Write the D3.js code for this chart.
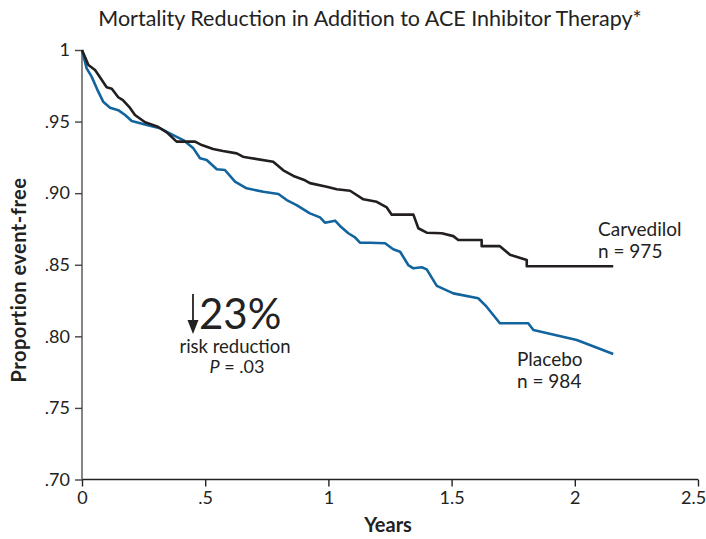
<!DOCTYPE html>
<html>
<head>
<meta charset="utf-8">
<script src="https://cdn.jsdelivr.net/npm/d3@7"></script>
<style>
  html, body { margin: 0; padding: 0; background: #fff; }
  svg text { font-family: Lato, "Open Sans", sans-serif; fill: #222; }
</style>
</head>
<body>
<svg id="chart" width="706" height="539"></svg>
<script>
// ---------- Data ----------
const carvedilolYears = [0, 0.026, 0.053, 0.073, 0.100, 0.121, 0.147, 0.166, 0.195, 0.215, 0.256, 0.308, 0.344, 0.384, 0.459, 0.486, 0.532, 0.572, 0.628, 0.653, 0.682, 0.776, 0.817, 0.858, 0.905, 0.925, 0.993, 1.034, 1.088, 1.142, 1.196, 1.237, 1.257, 1.345, 1.365, 1.399, 1.460, 1.507, 1.527, 1.622, 1.622, 1.696, 1.737, 1.805, 1.805, 2.156];
const carvedilolValues = [1.000, 0.9895, 0.986, 0.981, 0.974, 0.973, 0.967, 0.965, 0.9595, 0.9546, 0.9495, 0.9464, 0.9425, 0.936, 0.936, 0.9336, 0.9309, 0.9295, 0.9278, 0.9255, 0.9246, 0.922, 0.916, 0.912, 0.909, 0.907, 0.9045, 0.9027, 0.9017, 0.8957, 0.894, 0.890, 0.885, 0.885, 0.8755, 0.8724, 0.872, 0.870, 0.8673, 0.8673, 0.863, 0.863, 0.857, 0.8533, 0.849, 0.849];

const placeboYears = [0, 0.019, 0.039, 0.066, 0.086, 0.114, 0.147, 0.175, 0.202, 0.263, 0.317, 0.364, 0.411, 0.452, 0.479, 0.506, 0.547, 0.580, 0.621, 0.668, 0.736, 0.797, 0.831, 0.871, 0.925, 0.966, 0.986, 1.027, 1.047, 1.081, 1.108, 1.128, 1.169, 1.230, 1.263, 1.291, 1.324, 1.345, 1.379, 1.399, 1.440, 1.507, 1.608, 1.642, 1.696, 1.811, 1.832, 2.008, 2.156];
const placeboValues = [1.000, 0.9872, 0.9814, 0.9709, 0.9639, 0.9597, 0.958, 0.9546, 0.9504, 0.9476, 0.9453, 0.9411, 0.9371, 0.9313, 0.9244, 0.9232, 0.9167, 0.9162, 0.908, 0.9034, 0.901, 0.8994, 0.8952, 0.8917, 0.8859, 0.8831, 0.8794, 0.8808, 0.8771, 0.872, 0.8692, 0.8654, 0.8654, 0.865, 0.8608, 0.8591, 0.8498, 0.8475, 0.8482, 0.8468, 0.8352, 0.830, 0.8266, 0.8207, 0.8091, 0.8091, 0.8044, 0.7974, 0.7877];

const xTicks = [0, 0.5, 1, 1.5, 2, 2.5];
const xTickLabels = ["0", ".5", "1", "1.5", "2", "2.5"];
const yTicks = [0.70, 0.75, 0.80, 0.85, 0.90, 0.95, 1.00];
const yTickLabels = [".70", ".75", ".80", ".85", ".90", ".95", "1"];

const titleText = "Mortality Reduction in Addition to ACE Inhibitor Therapy*";
const xLabelText = "Years";
const yLabelText = "Proportion event-free";
const seriesLabels = [
  { name: "Carvedilol", n: "n = 975" },
  { name: "Placebo", n: "n = 984" }
];

// ---------- Layout ----------
const svg = d3.select("#chart");
const x = d3.scaleLinear().domain([0, 2.5]).range([82, 698]);
const y = d3.scaleLinear().domain([0.70, 1.0]).range([479.5, 50]);

// Title
svg.append("text")
  .attr("x", 370).attr("y", 26)
  .attr("text-anchor", "middle")
  .style("font-size", "21.5px")
  .text(titleText);

// Axes
const xAxis = d3.axisBottom(x).tickValues(xTicks)
  .tickFormat((d, i) => xTickLabels[i]).tickSize(7).tickPadding(5);
const yAxis = d3.axisLeft(y).tickValues(yTicks)
  .tickFormat((d, i) => yTickLabels[i]).tickSize(7).tickPadding(5);

const gx = svg.append("g").attr("transform", `translate(0,${y(0.70)})`).call(xAxis);
gx.select(".domain").attr("stroke", "#222").attr("stroke-width", 1.6).attr("d", `M${x(0)},0H${x(2.5)}`);
gx.selectAll(".tick line").attr("stroke", "#222").attr("stroke-width", 1.4);
gx.selectAll(".tick text").style("font-size", "18px").attr("fill", "#222")
  .attr("dx", (d, i) => i === xTicks.length - 1 ? -5 : 0);

const gy = svg.append("g").attr("transform", `translate(${x(0)},0)`).call(yAxis);
gy.select(".domain").attr("stroke", "#666").attr("stroke-width", 1.6).attr("d", `M0,${y(1)}V${y(0.70)}`);
gy.selectAll(".tick line").attr("stroke", "#444").attr("stroke-width", 1.4);
gy.selectAll(".tick text").style("font-size", "18px").attr("fill", "#222");

svg.selectAll(".tick text").style("font-family", "Lato, 'Open Sans', sans-serif");

// Axis labels
svg.append("text")
  .attr("x", 388).attr("y", 532)
  .attr("text-anchor", "middle")
  .style("font-size", "20px").style("font-weight", "bold")
  .text(xLabelText);

svg.append("text")
  .attr("transform", `translate(26,${280}) rotate(-90)`)
  .attr("text-anchor", "middle")
  .style("font-size", "20px").style("font-weight", "bold")
  .style("letter-spacing", "0.5px")
  .text(yLabelText);

// Lines
const line = d3.line().x(d => x(d[0])).y(d => y(d[1]));
const carv = carvedilolYears.map((t, i) => [t, carvedilolValues[i]]);
const plac = placeboYears.map((t, i) => [t, placeboValues[i]]);

svg.append("path").datum(plac)
  .attr("fill", "none").attr("stroke", "#12649f").attr("stroke-width", 2.6)
  .attr("stroke-linejoin", "round")
  .attr("d", line);
svg.append("path").datum(carv)
  .attr("fill", "none").attr("stroke", "#231f20").attr("stroke-width", 2.6)
  .attr("stroke-linejoin", "round")
  .attr("d", line);

// Series labels
const lab = svg.append("g").style("font-size", "19px");
lab.append("text").attr("x", 598).attr("y", 236).text(seriesLabels[0].name);
lab.append("text").attr("x", 598).attr("y", 258).text(seriesLabels[0].n);
lab.append("text").attr("x", 517).attr("y", 366).text(seriesLabels[1].name);
lab.append("text").attr("x", 517).attr("y", 388).text(seriesLabels[1].n);

// Annotation
const ann = svg.append("g");
ann.append("line").attr("x1", 193).attr("x2", 193).attr("y1", 294).attr("y2", 322)
  .attr("stroke", "#222").attr("stroke-width", 1.8);
ann.append("path").attr("d", "M187.5,320 L198.5,320 L193,334 Z").attr("fill", "#222");
ann.append("text").attr("x", 199).attr("y", 329)
  .style("font-size", "42px").text("23%");
ann.append("text").attr("x", 235).attr("y", 353).attr("text-anchor", "middle")
  .style("font-size", "18.5px").text("risk reduction");
const pt = ann.append("text").attr("x", 237).attr("y", 373).attr("text-anchor", "middle")
  .style("font-size", "18px");
pt.append("tspan").style("font-style", "italic").text("P");
pt.append("tspan").text(" = .03");
</script>
</body>
</html>
